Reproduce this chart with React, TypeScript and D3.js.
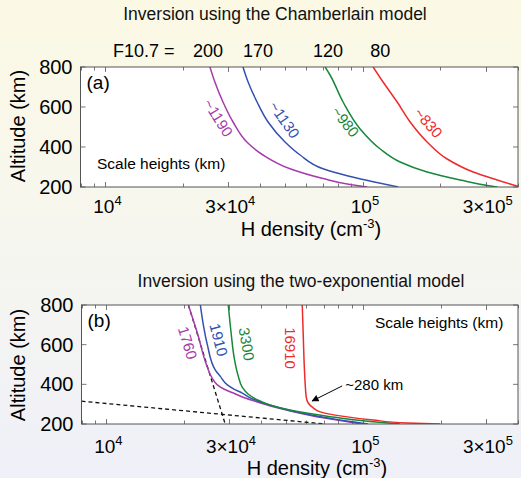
import React from "react";
import * as d3 from "d3";

// ---------------- data ----------------
const densityDomain = [8000, 400000];
const altitudeDomain = [200, 800];
const altitudeTicks = [200, 400, 600, 800];
const densityTicks = [1e4, 3e4, 1e5, 3e5];
const densityTickMantissa = ["", "3×", "", "3×"];
const densityTickExponent = ["4", "4", "5", "5"];

const seriesColors = ["#a63bab", "#3451b2", "#17883a", "#ee2a2a"];

// Panel (a): Chamberlain model
const f107Labels = ["200", "170", "120", "80"];
const f107LabelDensity = [25000, 39100, 73200, 116700];

const chamPurpleAlt = [800, 725, 625, 525, 425, 360, 291, 242, 212, 200];
const chamPurpleDen = [25450, 26600, 28600, 31300, 35400, 40900, 52100, 70000, 89100, 103800];
const chamBlueAlt = [800, 725, 625, 525, 425, 360, 291, 255, 228, 200];
const chamBlueDen = [34200, 35800, 38800, 42800, 49800, 57000, 70000, 87560, 108500, 137000];
const chamGreenAlt = [800, 760, 625, 490, 390, 325, 275, 235, 205, 200];
const chamGreenDen = [71300, 74500, 83700, 97500, 116700, 139400, 177500, 238600, 312000, 332500];
const chamRedAlt = [800, 725, 625, 525, 425, 340, 275, 235, 203];
const chamRedDen = [109500, 119700, 135800, 152500, 177500, 212300, 268000, 332000, 400000];

const chamScaleLabels = ["~1190", "~1130", "~980", "~830"];
const chamScaleDen = [27350, 49380, 85230, 179200];
const chamScaleAlt = [545, 535, 525, 520];
const chamScaleAngle = [58, 55, 52, 49];

// Panel (b): two-exponential model
const twoPurpleAlt = [800, 650, 500, 430, 397, 375, 356, 332, 311, 291, 266, 231, 200];
const twoPurpleDen = [20840, 22700, 24490, 25840, 27030, 28770, 31190, 34430, 38650, 43450, 51950, 69800, 98970];
const twoBlueAlt = [800, 700, 600, 472, 440, 397, 375, 356, 332, 311, 291, 266, 232, 200];
const twoBlueDen = [23210, 23840, 24710, 26550, 27760, 29560, 31470, 33810, 36310, 39720, 44620, 52900, 71720, 104400];
const twoGreenAlt = [800, 650, 530, 440, 385, 350, 322, 295, 268, 237, 215, 200];
const twoGreenDen = [29820, 30630, 31470, 32620, 33810, 35670, 38660, 43420, 52900, 74320, 101700, 139100];
const twoRedAlt = [800, 650, 500, 400, 336, 306, 281, 261, 241, 220, 205, 200];
const twoRedDen = [57850, 58360, 58880, 59410, 59950, 61030, 63830, 67960, 81280, 109200, 148100, 199000];

const dashSteepAlt = [800, 200];
const dashSteepDen = [20850, 29000];
const dashShallowAlt = [315, 200];
const dashShallowDen = [8000, 71100];

const twoScaleLabels = ["1760", "1910", "3300", "16910"];
const twoScaleDen = [20660, 27280, 35040, 51950];
const twoScaleAlt = [608, 624, 603, 583];
const twoScaleAngle = [73, 75, 80, 90];

const arrowTip = [63240, 316];
const arrowTail = [82760, 392];
const arrowText = "~280 km";
const arrowTextPos = [85020, 372];

// ---------------- drawing ----------------
const FONT = "'Liberation Sans', Arial, Helvetica, sans-serif";

type Series = { alt: number[]; den: number[]; color: string; dash?: string };

function zip(alt: number[], den: number[]) {
  return alt.map((a, i) => ({ alt: a, den: den[i] }));
}

function Panel(props: {
  top: number;
  bottom: number;
  left: number;
  right: number;
  series: Series[];
  label: string;
  tag: string;
  title: string;
  titleX: number;
  titleY: number;
  scaleText: { x: number; y: number };
  xLabelX: number;
  xLabelY: number;
  yLabelY: number;
  tickLabelY: number;
  children?: (x: any, y: any) => React.ReactNode;
}) {
  const { top, bottom, left, right } = props;
  const x = d3.scaleLog().domain(densityDomain).range([left, right]);
  const y = d3.scaleLinear().domain(altitudeDomain).range([bottom, top]);
  const line = d3
    .line<{ alt: number; den: number }>()
    .x((d) => x(d.den))
    .y((d) => y(d.alt))
    .curve(d3.curveMonotoneY);
  const minor = x.ticks().filter((t) => t >= densityDomain[0] && t <= densityDomain[1]);
  const clipId = "clip" + props.tag;
  return (
    <g>
      <text x={props.titleX} y={props.titleY} fontSize={17.5} textAnchor="middle" fill="#111">
        {props.title}
      </text>
      <rect x={left} y={top} width={right - left} height={bottom - top} fill="#ffffff" />
      <clipPath id={clipId}>
        <rect x={left} y={top} width={right - left} height={bottom - top} />
      </clipPath>
      {minor.map((t, i) => {
        const major = densityTicks.includes(t);
        const len = major ? 5 : 3.5;
        const xx = Math.round(x(t)) + 0.5;
        return (
          <g key={"m" + i} stroke="#555" strokeWidth={0.8}>
            <line x1={xx} x2={xx} y1={bottom} y2={bottom - len} />
            <line x1={xx} x2={xx} y1={top} y2={top + len} />
          </g>
        );
      })}
      {altitudeTicks.map((t, i) => (
        <g key={"y" + i} stroke="#555" strokeWidth={0.8}>
          <line x1={left} x2={left + 5} y1={y(t)} y2={y(t)} />
          <line x1={right} x2={right - 5} y1={y(t)} y2={y(t)} />
        </g>
      ))}
      <g clipPath={`url(#${clipId})`}>
        {props.series.map((s, i) => (
          <path
            key={i}
            d={line(zip(s.alt, s.den)) || ""}
            fill="none"
            stroke={s.color}
            strokeWidth={s.dash ? 1.3 : 1.5}
            strokeDasharray={s.dash}
          />
        ))}
      </g>
      {props.children && props.children(x, y)}
      <rect x={left} y={top} width={right - left} height={bottom - top} fill="none" stroke="#555" strokeWidth={1} />
      {altitudeTicks.map((t, i) => (
        <text key={"yl" + i} x={left - 8} y={y(t) + 7} fontSize={20} textAnchor="end" fill="#000">
          {t}
        </text>
      ))}
      {densityTicks.map((t, i) => (
        <text key={"xl" + i} x={x(t) + 2} y={props.tickLabelY} fontSize={19} textAnchor="middle" fill="#000">
          {densityTickMantissa[i] + "10"}
          <tspan dy={-8} fontSize={13}>
            {densityTickExponent[i]}
          </tspan>
        </text>
      ))}
      <text x={props.xLabelX} y={props.xLabelY} fontSize={20} textAnchor="middle" fill="#000">
        H density (cm
        <tspan dy={-8} fontSize={13}>
          -3
        </tspan>
        <tspan dy={8}>)</tspan>
      </text>
      <text
        transform={`translate(25,${props.yLabelY}) rotate(-90)`}
        fontSize={20}
        textAnchor="middle"
        fill="#000"
      >
        Altitude (km)
      </text>
      <text x={left + 6} y={top + 22} fontSize={19} fill="#000">
        {props.label}
      </text>
      <text x={props.scaleText.x} y={props.scaleText.y} fontSize={15.5} fill="#000">
        Scale heights (km)
      </text>
    </g>
  );
}

export default function App() {
  const W = 521;
  const H = 478;
  const chamSeries: Series[] = [
    { alt: chamPurpleAlt, den: chamPurpleDen, color: seriesColors[0] },
    { alt: chamBlueAlt, den: chamBlueDen, color: seriesColors[1] },
    { alt: chamGreenAlt, den: chamGreenDen, color: seriesColors[2] },
    { alt: chamRedAlt, den: chamRedDen, color: seriesColors[3] },
  ];
  const twoSeries: Series[] = [
    { alt: dashSteepAlt, den: dashSteepDen, color: "#111", dash: "4,3" },
    { alt: dashShallowAlt, den: dashShallowDen, color: "#111", dash: "4,3" },
    { alt: twoPurpleAlt, den: twoPurpleDen, color: seriesColors[0] },
    { alt: twoBlueAlt, den: twoBlueDen, color: seriesColors[1] },
    { alt: twoGreenAlt, den: twoGreenDen, color: seriesColors[2] },
    { alt: twoRedAlt, den: twoRedDen, color: seriesColors[3] },
  ];
  return (
    <svg
      width={W}
      height={H}
      style={{ position: "absolute", left: 0, top: 0, fontFamily: FONT }}
      fontFamily={FONT}
    >
      <defs>
        <linearGradient id="bg" x1="0" y1="0" x2="0" y2="1">
          <stop offset="0" stopColor="#fbf9e4" />
          <stop offset="0.5" stopColor="#f6f6ef" />
          <stop offset="1" stopColor="#eff0f8" />
        </linearGradient>
        <marker id="arrowHead" viewBox="0 0 10 10" refX="9" refY="5" markerWidth="9" markerHeight="7" orient="auto" markerUnits="userSpaceOnUse">
          <path d="M0,0 L10,5 L0,10 Z" fill="#000" />
        </marker>
      </defs>
      <rect x={0} y={0} width={W} height={H} fill="url(#bg)" />

      <Panel
        tag="a"
        top={67}
        bottom={187}
        left={80.5}
        right={518}
        series={chamSeries}
        label="(a)"
        title="Inversion using the Chamberlain model"
        titleX={275}
        titleY={20}
        scaleText={{ x: 97, y: 169 }}
        xLabelX={311}
        xLabelY={236}
        yLabelY={126}
        tickLabelY={213}
      >
        {(x, y) => (
          <g>
            <text x={113} y={57} fontSize={18} fill="#000">
              F10.7 =
            </text>
            {f107Labels.map((l, i) => (
              <text key={l} x={x(f107LabelDensity[i])} y={57} fontSize={18} textAnchor="middle" fill="#000">
                {l}
              </text>
            ))}
            {chamScaleLabels.map((l, i) => (
              <text
                key={l}
                transform={`translate(${x(chamScaleDen[i])},${y(chamScaleAlt[i])}) rotate(${chamScaleAngle[i]})`}
                fontSize={15}
                textAnchor="middle"
                dy={5}
                fill={seriesColors[i]}
              >
                {l}
              </text>
            ))}
          </g>
        )}
      </Panel>

      <Panel
        tag="b"
        top={305}
        bottom={424}
        left={81.5}
        right={518}
        series={twoSeries}
        label="(b)"
        title="Inversion using the two-exponential model"
        titleX={301}
        titleY={287}
        scaleText={{ x: 375, y: 328 }}
        xLabelX={317}
        xLabelY={475}
        yLabelY={365}
        tickLabelY={453}
      >
        {(x, y) => (
          <g>
            {twoScaleLabels.map((l, i) => (
              <text
                key={l}
                transform={`translate(${x(twoScaleDen[i])},${y(twoScaleAlt[i])}) rotate(${twoScaleAngle[i]})`}
                fontSize={15}
                textAnchor="middle"
                dy={5}
                fill={seriesColors[i]}
              >
                {l}
              </text>
            ))}
            <line
              x1={x(arrowTail[0])}
              y1={y(arrowTail[1])}
              x2={x(arrowTip[0])}
              y2={y(arrowTip[1])}
              stroke="#000"
              strokeWidth={1}
              markerEnd="url(#arrowHead)"
            />
            <text x={x(arrowTextPos[0])} y={y(arrowTextPos[1])} fontSize={15} fill="#000">
              {arrowText}
            </text>
          </g>
        )}
      </Panel>
    </svg>
  );
}
